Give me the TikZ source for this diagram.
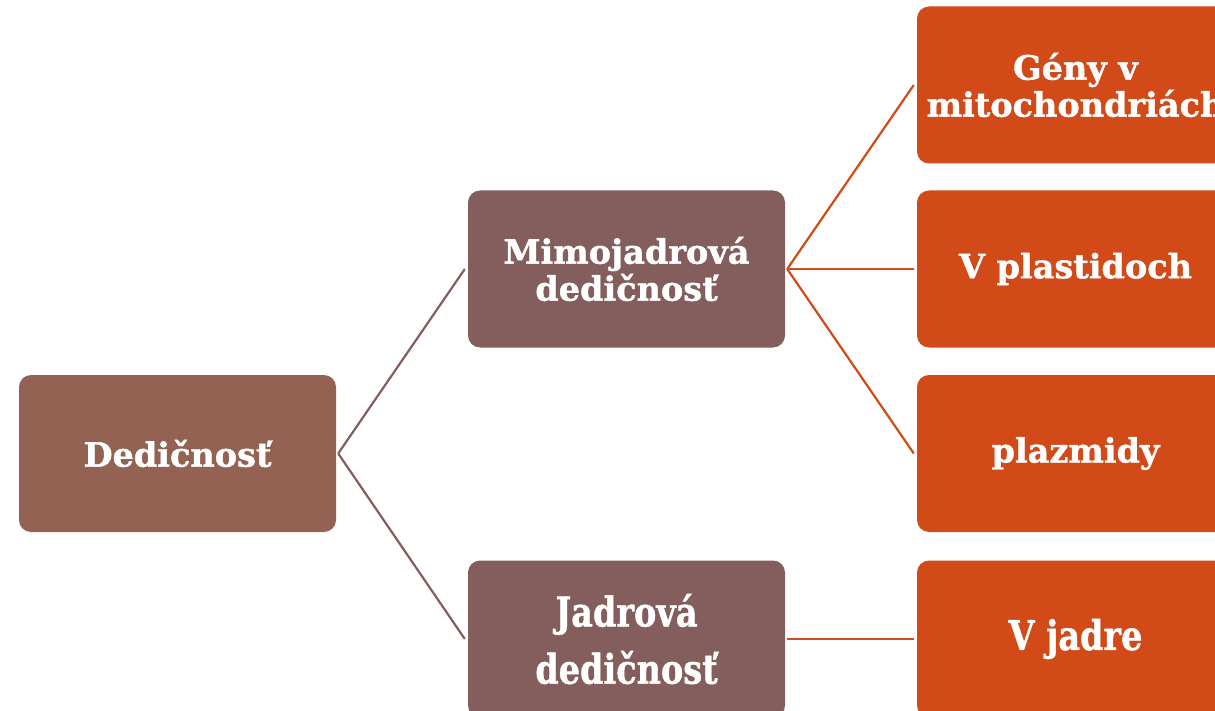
\documentclass[tikz,border=0pt]{standalone}
\usepackage{fontspec}
\setmainfont{DejaVu Serif}
\newfontfamily\heavyfont{DejaVu Serif Bold}[FakeBold=1.2]
\definecolor{dedc}{RGB}{148,98,82}
\definecolor{midc}{RGB}{132,94,92}
\definecolor{orc}{RGB}{209,74,24}
\begin{document}
\begin{tikzpicture}[x=1pt,y=-1pt,
  box/.style={rectangle,rounded corners=12pt,minimum width=317pt,minimum height=157pt,
    inner sep=0pt,align=center,text=white,font=\fontsize{33.5}{37}\selectfont\heavyfont},
  lvlA/.style={box,fill=dedc},
  lvlB/.style={box,fill=midc},
  lvlC/.style={box,fill=orc},
  lnB/.style={draw=midc,line width=2.2pt},
  lnC/.style={draw=orc,line width=2.2pt}]
\useasboundingbox (0,0) rectangle (1215,711);
\clip (0,0) rectangle (1215,711);
\node[lvlA] (ded) at (177.5,453.5) {Dedičnosť};
\node[lvlB] (mimo) at (626.5,269) {Mimojadrová\\dedičnosť};
\node[lvlB] (jad) at (626.5,639) {\scalebox{1}[1.22]{Jadrová}\\[15pt]\scalebox{1}[1.22]{dedičnosť}};
\node[lvlC] (gen) at (1075.5,85) {Gény v\\mitochondriách};
\node[lvlC] (pla) at (1075.5,269) {V plastidoch};
\node[lvlC] (plaz) at (1075.5,453.5) {plazmidy};
\node[lvlC] (vj) at (1075.5,639) {\scalebox{1}[1.22]{V jadre}};
\path[lnB] ([xshift=2pt]ded.east) -- ([xshift=-3pt]mimo.west);
\path[lnB] ([xshift=2pt]ded.east) -- ([xshift=-3pt]jad.west);
\path[lnC] ([xshift=2pt]mimo.east) -- ([xshift=-3pt]gen.west);
\path[lnC] ([xshift=2pt]mimo.east) -- ([xshift=-3pt]pla.west);
\path[lnC] ([xshift=2pt]mimo.east) -- ([xshift=-3pt]plaz.west);
\path[lnC] ([xshift=2pt]jad.east) -- ([xshift=-3pt]vj.west);
\end{tikzpicture}
\end{document}
